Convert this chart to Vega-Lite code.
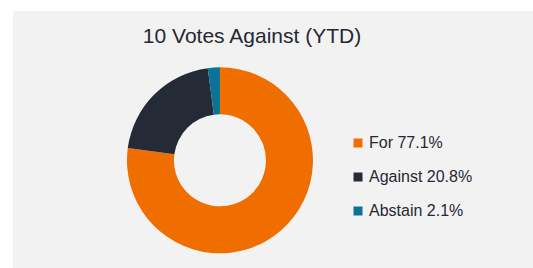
{
  "$schema": "https://vega.github.io/schema/vega-lite/v6.json",
  "width": 520,
  "height": 257,
  "autosize": {"type": "none"},
  "padding": {"left": 13, "top": 11, "right": 0, "bottom": 0},
  "background": "#ffffff",
  "view": {"fill": "#f2f2f2", "stroke": null},
  "title": {
    "text": "10 Votes Against (YTD)",
    "anchor": "middle",
    "offset": -33,
    "dy": 20,
    "baseline": "alphabetic",
    "dx": -21,
    "fontSize": 21,
    "font": "Liberation Sans",
    "fontWeight": "normal",
    "color": "#262833"
  },
  "data": {
    "values": [
      {"category": "For", "share": 77.1, "label": "For 77.1%", "rank": 1},
      {"category": "Against", "share": 20.8, "label": "Against 20.8%", "rank": 2},
      {"category": "Abstain", "share": 2.1, "label": "Abstain 2.1%", "rank": 3}
    ]
  },
  "mark": {"type": "arc", "innerRadius": 46, "outerRadius": 93},
  "encoding": {
    "theta": {"field": "share", "type": "quantitative", "stack": true},
    "order": {"field": "rank", "type": "quantitative"},
    "color": {
      "field": "label",
      "type": "nominal",
      "sort": null,
      "scale": {
        "domain": ["For 77.1%", "Against 20.8%", "Abstain 2.1%"],
        "range": ["#F06D00", "#252A37", "#0B7396"]
      },
      "legend": {
        "title": null,
        "orient": "none",
        "legendX": 337,
        "legendY": 124,
        "symbolType": "square",
        "symbolSize": 81,
        "symbolStrokeWidth": 0,
        "symbolOpacity": 1,
        "labelFontSize": 16,
        "labelFont": "Liberation Sans",
        "labelColor": "#262833",
        "rowPadding": 18,
        "labelOffset": 3,
        "padding": 0
      }
    },
    "x": {"datum": 0.398, "type": "quantitative", "scale": {"domain": [0, 1]}, "axis": null},
    "y": {"datum": 0.581, "type": "quantitative", "scale": {"domain": [0, 1], "reverse": true}, "axis": null}
  }
}
